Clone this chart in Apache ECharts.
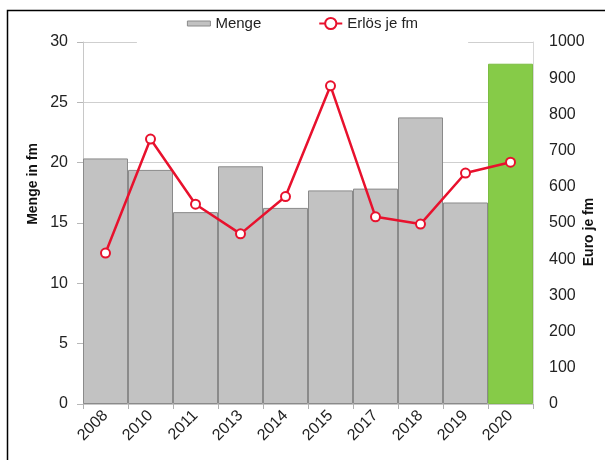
<!DOCTYPE html>
<html>
<head>
<meta charset="utf-8">
<script src="https://cdn.jsdelivr.net/npm/echarts@6/dist/echarts.min.js"></script>
<style>
  html, body { margin: 0; padding: 0; background: #fff; }
  #chart { width: 605px; height: 460px; }
</style>
</head>
<body>
<div id="chart"></div>
<script>
// Jahre (Kategorien)
const years = ['2008', '2010', '2011', '2013', '2014', '2015', '2017', '2018', '2019', '2020'];
// Menge in fm (linke Achse)
const menge = [20.35, 19.4, 15.9, 19.7, 16.25, 17.7, 17.85, 23.75, 16.7, 28.2];
// Erlös je fm in Euro (rechte Achse)
const erloes = [417, 732, 552, 470, 573, 879, 517, 497, 638, 668];
// Achsenbeschriftung
const leftTicks = { min: 0, max: 30, interval: 5 };
const rightTicks = { min: 0, max: 1000, interval: 100 };

const FONT = '"Liberation Sans", Arial, sans-serif';
const grey = '#c2c2c2';
const greyBorder = '#8a8a8a';
const green = '#86cb48';
const red = '#e8112d';

const chart = echarts.init(document.getElementById('chart'), null, { renderer: 'canvas' });

const barData = menge.map((v, i) => i === menge.length - 1
  ? { value: v, itemStyle: { color: green, borderColor: '#7cbd42', borderWidth: 1 } }
  : v);

chart.setOption({
  animation: false,
  backgroundColor: '#fff',
  textStyle: { fontFamily: FONT },
  grid: { left: 83, right: 72, top: 42, bottom: 56, containLabel: false, outerBoundsMode: 'none' },
  legend: {
    top: 10,
    left: 'center',
    padding: [6, 50, 15, 50],
    backgroundColor: '#fff',
    itemGap: 57,
    itemWidth: 23,
    itemHeight: 14,
    textStyle: { fontFamily: FONT, fontSize: 15, color: '#222' },
    data: [
      { name: 'Menge', icon: 'path://M0,4.5 L23,4.5 L23,9.5 L0,9.5 Z', itemStyle: { color: grey, borderColor: greyBorder, borderWidth: 1 } },
      { name: 'Erlös je fm' }
    ]
  },
  xAxis: {
    type: 'category',
    data: years,
    axisLine: { lineStyle: { color: '#c8c8c8' } },
    axisTick: { show: true, alignWithLabel: false, lineStyle: { color: '#b0b0b0' } },
    axisLabel: { rotate: 45, margin: 9, fontSize: 16, color: '#222', fontFamily: FONT }
  },
  yAxis: [
    {
      type: 'value',
      min: leftTicks.min, max: leftTicks.max, interval: leftTicks.interval,
      name: 'Menge in fm',
      nameLocation: 'middle',
      nameGap: 43,
      nameMoveOverlap: false,
      nameTextStyle: { fontSize: 14, fontWeight: 'bold', color: '#111', fontFamily: FONT, padding: [0, 0, 0, 78] },
      axisLine: { show: true, lineStyle: { color: '#c8c8c8' } },
      axisTick: { show: true, length: 6, lineStyle: { color: '#b8b8b8' } },
      axisLabel: { margin: 15, fontSize: 16, color: '#222', fontFamily: FONT },
      splitLine: { show: true, lineStyle: { color: '#cfcfcf', width: 1 } }
    },
    {
      type: 'value',
      min: rightTicks.min, max: rightTicks.max, interval: rightTicks.interval,
      name: 'Euro je fm',
      nameLocation: 'middle',
      nameGap: 49,
      nameMoveOverlap: false,
      nameTextStyle: { fontSize: 14, fontWeight: 'bold', color: '#111', fontFamily: FONT, padding: [0, 18, 0, 0] },
      axisLine: { show: true, lineStyle: { color: '#d8d8d8' } },
      axisTick: { show: false },
      axisLabel: { margin: 16, fontSize: 16, color: '#222', fontFamily: FONT, formatter: v => String(v) },
      splitLine: { show: false }
    }
  ],
  series: [
    {
      name: 'Menge',
      type: 'bar',
      yAxisIndex: 0,
      barCategoryGap: '0%',
      data: barData,
      itemStyle: { color: grey, borderColor: greyBorder, borderWidth: 1 },
      z: 2
    },
    {
      name: 'Erlös je fm',
      type: 'line',
      yAxisIndex: 1,
      data: erloes,
      symbol: 'circle',
      symbolSize: 9,
      lineStyle: { color: red, width: 2.5 },
      itemStyle: { color: '#fff', borderColor: red, borderWidth: 2 },
      z: 3
    }
  ],
  graphic: [
    {
      type: 'rect',
      z: 100,
      silent: true,
      shape: { x: 7.5, y: 10.5, width: 800, height: 600 },
      style: { fill: 'none', stroke: '#000', lineWidth: 1.5 }
    }
  ]
});
</script>
</body>
</html>
